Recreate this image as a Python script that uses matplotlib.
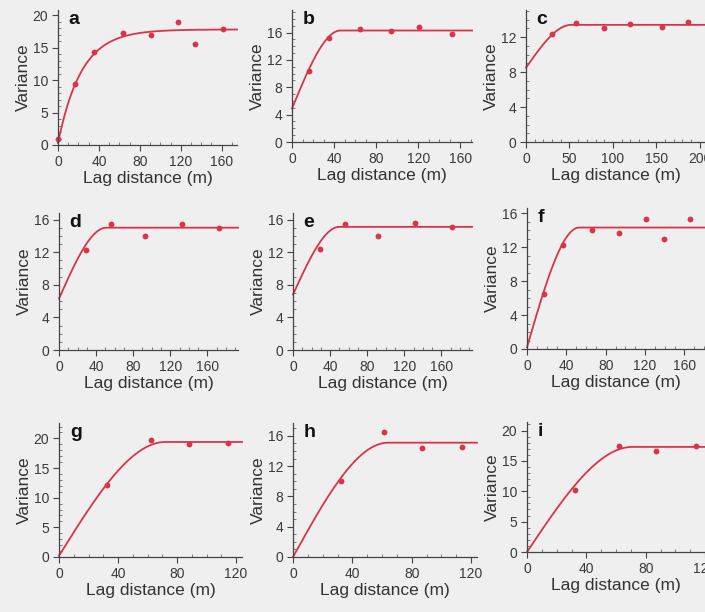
import numpy as np
import matplotlib
matplotlib.use("Agg")
import matplotlib.pyplot as plt
from matplotlib.ticker import MultipleLocator

plt.rcParams['font.family'] = ['Liberation Sans', 'DejaVu Sans']

W, H = 705, 612
bg = "#efefef"
red = "#d8344a"

# experimental semivariances (lag in m, variance)
lag_a = [0, 17, 35.5, 64, 91, 117, 134, 161]
var_a = [1.0, 9.4, 14.3, 17.2, 16.9, 18.9, 15.6, 17.9]
lag_b = [16.5, 35, 65, 94, 121, 152]
var_b = [10.4, 15.2, 16.5, 16.3, 16.8, 15.8]
lag_c = [29.5, 57.5, 90, 120, 157, 187]
var_c = [12.3, 13.6, 13.0, 13.5, 13.1, 13.7]
lag_d = [28.7, 56.6, 92.8, 132.6, 172.8]
var_d = [12.3, 15.4, 14.0, 15.5, 15.0]
lag_e = [28.6, 56.4, 92, 131.8, 171.8]
var_e = [12.4, 15.4, 14.0, 15.6, 15.1]
lag_f = [17, 37, 66, 94, 121, 139, 166]
var_f = [6.5, 12.2, 14.0, 13.6, 15.3, 12.9, 15.3]
lag_g = [32.7, 62, 87.8, 114.7]
var_g = [12.1, 19.7, 19.1, 19.3]
lag_h = [32.2, 61.5, 86.9, 113.7]
var_h = [10.1, 16.5, 14.4, 14.5]
lag_i = [32.6, 61.8, 87.2, 113.9]
var_i = [10.2, 17.4, 16.6, 17.5]

# fitted models: (kind, nugget, sill, range)
model_a = ("exp", 0.3, 17.8, 69)
model_b = ("sph", 4.9, 16.3, 46)
model_c = ("sph", 8.5, 13.4, 52)
model_d = ("sph", 6.3, 15.0, 51)
model_e = ("sph", 6.8, 15.1, 50)
model_f = ("sph", 0.2, 14.3, 53)
model_g = ("sph", 0.2, 19.4, 72)
model_h = ("sph", 0.0, 15.1, 64)
model_i = ("sph", 0.0, 17.3, 71)


def variogram(h, kind, c0, sill, a):
    if kind == "exp":
        return c0 + (sill - c0) * (1 - np.exp(-3 * h / a))
    r = np.clip(h / a, 0, 1)
    return c0 + (sill - c0) * (1.5 * r - 0.5 * r ** 3)


# letter, data, model, pixel box (left, right, top, bottom), xlim, ylim, xstep, ystep
panels = [
    ("a", lag_a, var_a, model_a, (58, 237, 10, 145), 175, 20.8, 40, 5),
    ("b", lag_b, var_b, model_b, (292, 472, 10, 142), 171, 19.3, 40, 4),
    ("c", lag_c, var_c, model_c, (526, 705, 10, 142), 206, 15.1, 50, 4),
    ("d", lag_d, var_d, model_d, (59, 238, 213, 350), 193, 16.8, 40, 4),
    ("e", lag_e, var_e, model_e, (293, 472, 213, 350), 193, 16.8, 40, 4),
    ("f", lag_f, var_f, model_f, (527, 705, 208, 349), 181, 16.6, 40, 4),
    ("g", lag_g, var_g, model_g, (59, 242, 423, 557), 124, 22.6, 40, 5),
    ("h", lag_h, var_h, model_h, (293, 477, 423, 557), 124, 17.7, 40, 4),
    ("i", lag_i, var_i, model_i, (527, 705, 422, 552), 120, 21.4, 40, 5),
]

fig = plt.figure(figsize=(W / 100, H / 100), dpi=100, facecolor=bg)

for letter, lx, vy, model, box, xmax, ymax, xstep, ystep in panels:
    l, r, t, b = box
    ax = fig.add_axes([l / W, 1 - b / H, (r - l) / W, (b - t) / H])
    ax.set_facecolor(bg)
    hh = np.linspace(0, xmax, 400)
    ax.plot(hh, variogram(hh, *model), color=red, lw=1.3, clip_on=False)
    ax.plot(lx, vy, "o", color=red, ms=4.2, mec="none", clip_on=False)
    ax.set_xlim(0, xmax)
    ax.set_ylim(0, ymax)
    ax.xaxis.set_major_locator(MultipleLocator(xstep))
    ax.xaxis.set_minor_locator(MultipleLocator(10))
    ax.yaxis.set_major_locator(MultipleLocator(ystep))
    ax.yaxis.set_minor_locator(MultipleLocator(1))
    for s in ["top", "right"]:
        ax.spines[s].set_visible(False)
    for s in ["left", "bottom"]:
        ax.spines[s].set_color("#444444")
        ax.spines[s].set_linewidth(0.9)
    ax.tick_params(which="major", direction="out", length=4, width=0.8,
                   color="#444444", labelsize=10, labelcolor="#3a3a3a", pad=3)
    ax.tick_params(which="minor", direction="in", length=2.5, width=0.6,
                   color="#666666")
    ax.set_xlabel("Lag distance (m)", fontsize=12.5, color="#333333", labelpad=1.5)
    ax.set_ylabel("Variance", fontsize=12.5, color="#333333", labelpad=1)
    ax.text(0.06, 0.99, letter, transform=ax.transAxes, ha="left", va="top",
            fontsize=14, fontweight="bold", color="#111111")

fig.savefig("out.png", dpi=100, facecolor=bg)
